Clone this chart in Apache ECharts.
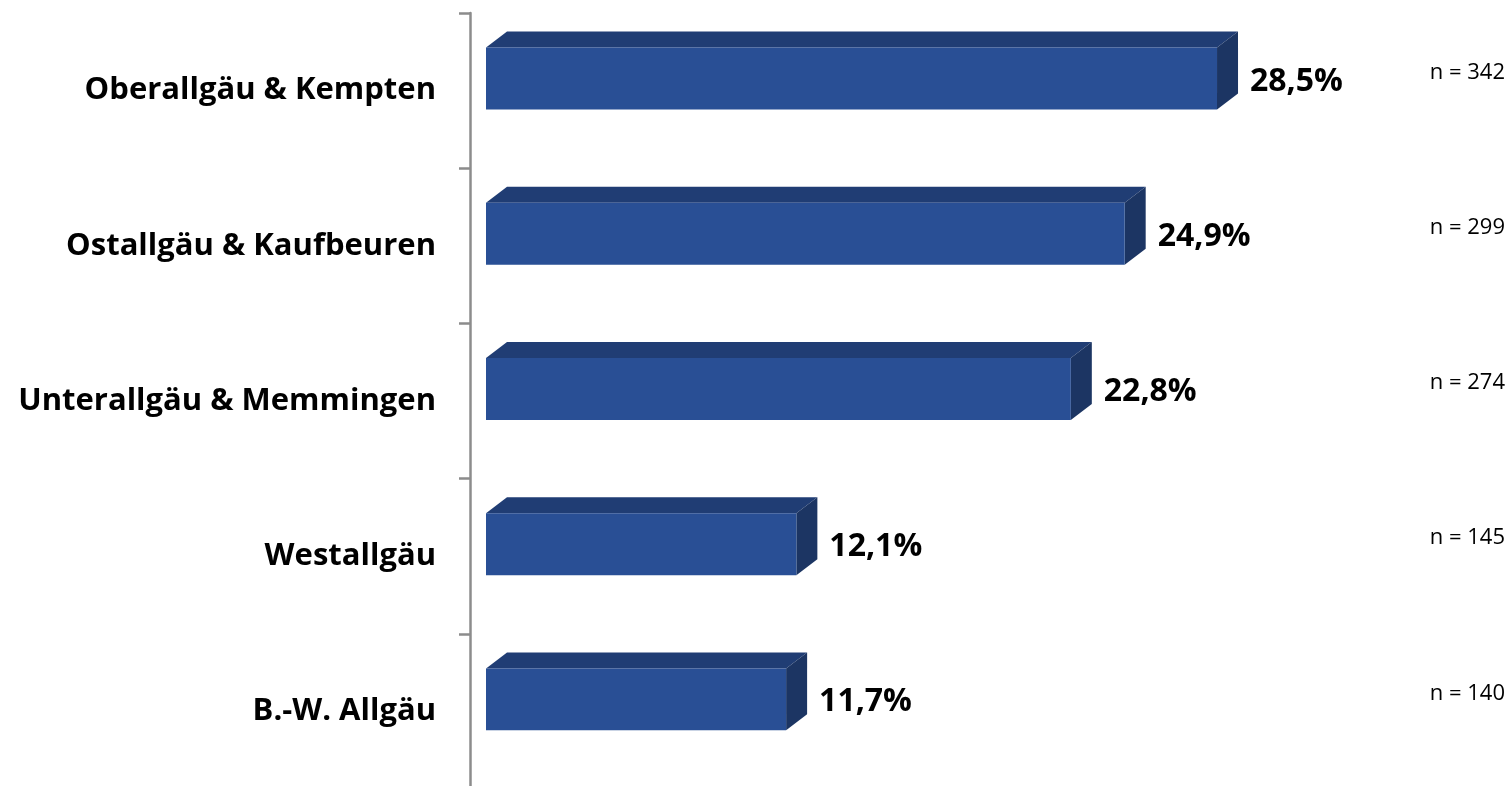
<!DOCTYPE html>
<html>
<head>
<meta charset="utf-8">
<script src="https://cdn.jsdelivr.net/npm/echarts@6/dist/echarts.min.js"></script>
<style>
html,body{margin:0;padding:0;background:#fff;}
#main{width:1512px;height:786px;}
</style>
</head>
<body>
<div id="main"></div>
<script>
// Regionen (von oben nach unten)
var regionen = ['Oberallgäu & Kempten', 'Ostallgäu & Kaufbeuren', 'Unterallgäu & Memmingen', 'Westallgäu', 'B.-W. Allgäu'];
var anteile = [28.5, 24.9, 22.8, 12.1, 11.7];
var fallzahlen = [342, 299, 274, 145, 140];

var farbeVorne = '#294f95';
var farbeOben = '#203d74';
var farbeSeite = '#1c3563';
var schrift = '"Open Sans"';

function fmt(v){
	return v.toFixed(1).replace('.', ',') + '%';
}

//3D-Balken zeichnen
function renderBalken(params, api){
	var idx = api.value(1);
	var wert = api.value(0);
	var p0 = api.coord([0, idx]);
	var p1 = api.coord([wert, idx]);
	var band = api.size([0, 1])[1];
	var c = p0[1];
	var top = c - band * 0.277;
	var bot = c + band * 0.122;
	var x0 = p0[0], x1 = p1[0];
	var dx = 21, dy = 16;
	var mitte = (top + bot) / 2;
	return {
		type: 'group',
		children: [
			{type: 'polygon', shape: {points: [[x0, top], [x0 + dx, top - dy], [x1 + dx, top - dy], [x1, top]]},
				style: {fill: farbeOben}},
			{type: 'polygon', shape: {points: [[x1, top], [x1 + dx, top - dy], [x1 + dx, bot - dy], [x1, bot]]},
				style: {fill: farbeSeite}},
			{type: 'rect', shape: {x: x0, y: top, width: x1 - x0, height: bot - top},
				style: {fill: farbeVorne}},
			{type: 'text', x: x1 + dx + 12, y: mitte + 3,
				style: {text: fmt(wert), fill: '#000', font: 'bold 32px ' + schrift, verticalAlign: 'middle', align: 'left'}},
			{type: 'text', x: api.getWidth() - 7, y: mitte - 6,
				style: {text: 'n = ' + fallzahlen[params.dataIndex], fill: '#000', font: '22px ' + schrift, verticalAlign: 'middle', align: 'right'}}
		]
	};
}

var daten = [];
for(var i=0;i<anteile.length;i++){
	daten.push([anteile[i], i]);
}

var chart = echarts.init(document.getElementById('main'));
var option = {
	animation: false,
	grid: {left: 486, width: 1026, top: 13, height: 776, outerBoundsMode: 'none', containLabel: false},
	xAxis: {type: 'value', min: 0, max: 40, show: false},
	yAxis: {
		type: 'category',
		data: regionen,
		inverse: true,
		offset: 16,
		axisLine: {show: true, onZero: false, lineStyle: {color: '#8c8c8c', width: 2.5}},
		axisTick: {show: true, length: 11, lineStyle: {color: '#8c8c8c', width: 2.5}},
		axisLabel: {margin: 34, color: '#000', fontFamily: schrift, fontWeight: 'bold', fontSize: 31, padding: [6, 0, 0, 0]}
	},
	series: [{
		type: 'custom',
		renderItem: renderBalken,
		encode: {x: 0, y: 1},
		data: daten
	}]
};
chart.setOption(option);
</script>
</body>
</html>
